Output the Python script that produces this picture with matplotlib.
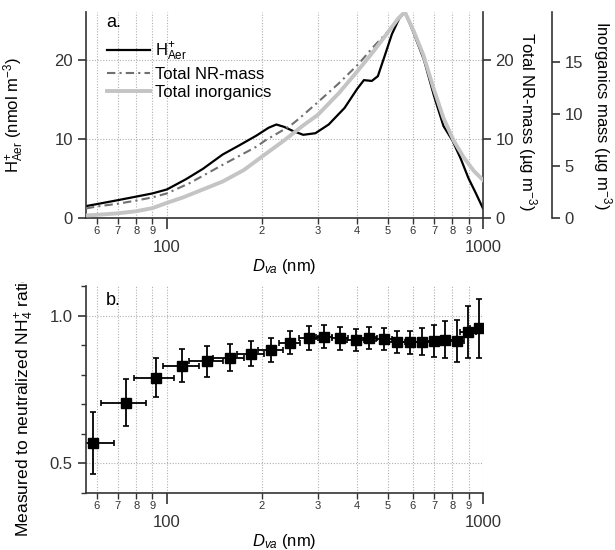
"""
Two-panel size-distribution figure: H+ aerosol vs. NR-mass / inorganics (a)
and measured-to-neutralized NH4+ ratio vs. vacuum aerodynamic diameter (b).
"""

import matplotlib

matplotlib.use("Agg")
import matplotlib.pyplot as plt
from matplotlib.patches import Rectangle

plt.rcParams["font.family"] = ["Liberation Sans", "DejaVu Sans"]
plt.rcParams["mathtext.fontset"] = "custom"
plt.rcParams["mathtext.rm"] = "Liberation Sans"
plt.rcParams["mathtext.it"] = "Liberation Sans:italic"

# ---- panel a: size distributions ----
h_d = [55.5, 60, 70, 80, 90, 100, 115, 130, 150, 170, 192, 210, 222, 235, 250,
       270, 295, 325, 365, 400, 420, 445, 465, 490, 515, 545, 566, 600, 650,
       700, 750, 800, 850, 900, 950, 1000]
h_aer = [1.5, 1.75, 2.25, 2.7, 3.1, 3.6, 4.9, 6.2, 8.0, 9.2, 10.4, 11.4, 11.8,
         11.5, 11.0, 10.5, 10.7, 11.8, 13.9, 16.3, 17.4, 17.3, 17.9, 20.6, 23.2,
         25.3, 26.0, 23.6, 20.0, 15.4, 11.6, 9.8, 7.5, 5.0, 3.1, 1.2]

nr_d = [55.5, 60, 70, 80, 90, 100, 118, 150, 192, 205, 245, 263, 300, 350,
        403, 450, 502, 548, 566, 603, 647, 697, 750, 809, 870, 937, 1000]
nr_mass = [1.2, 1.45, 1.8, 2.2, 2.6, 3.1, 4.4, 6.7, 9.0, 9.8, 11.6, 12.6, 14.6,
           17.0, 19.4, 21.6, 23.6, 25.3, 26.0, 23.6, 20.6, 16.4, 12.6, 9.7, 7.6,
           5.9, 4.8]

in_d = [55.5, 60, 70, 80, 90, 100, 113, 150, 175, 200, 236, 270, 300, 350,
        403, 450, 502, 540, 566, 603, 647, 697, 750, 809, 870, 937, 1000]
inorg_mass = [0.25, 0.3, 0.45, 0.65, 0.95, 1.45, 2.0, 3.5, 4.6, 5.9, 7.5, 8.9,
              9.9, 12.0, 14.2, 16.0, 17.9, 19.2, 19.8, 18.0, 15.7, 12.5, 9.6,
              7.4, 5.8, 4.5, 3.65]

# ---- panel b: measured / neutralized NH4+ ratio ----
ratio_d = [58.2, 74.0, 92.1, 111.5, 134.3, 157.9, 184.9, 214.3, 245, 280.6,
           314.7, 353, 395.5, 437.5, 486.5, 534.6, 587.6, 642.8, 699.8, 760,
           824.5, 897.7, 968]
ratio = [0.570, 0.705, 0.790, 0.831, 0.845, 0.858, 0.871, 0.883, 0.908, 0.925,
         0.928, 0.923, 0.917, 0.923, 0.921, 0.912, 0.910, 0.912, 0.914, 0.919,
         0.914, 0.944, 0.957]
ratio_err = [0.105, 0.08, 0.066, 0.057, 0.052, 0.046, 0.043, 0.041, 0.039,
             0.04, 0.039, 0.038, 0.038, 0.037, 0.038, 0.037, 0.039, 0.045,
             0.053, 0.064, 0.072, 0.087, 0.1]
d_err = [10, 12, 13.5, 14.5, 16.5, 18, 18.5, 19.5, 18.5, 19, 19, 21, 24, 26,
         29, 32, 35, 38, 42, 45, 49, 53, 57]

major_x = [100, 1000]
minor_x = [60, 70, 80, 90, 200, 300, 400, 500, 600, 700, 800, 900]
minor_labels = ["6", "7", "8", "9", "2", "3", "4", "5", "6", "7", "8", "9"]

AXIS_COLOR = "#333333"
GRID = dict(color="#b0b0b0", linestyle=(0, (1, 1.5)), linewidth=0.8)
FS = 12


def style_xaxis(ax):
    ax.set_xscale("log")
    ax.set_xlim(55.5, 1000)
    ax.set_xticks(major_x)
    ax.set_xticklabels(["100", "1000"])
    ax.set_xticks(minor_x, minor=True)
    ax.set_xticklabels(minor_labels, minor=True)
    ax.tick_params(axis="x", which="major", length=8, width=1.2, pad=8,
                   labelsize=FS, colors=AXIS_COLOR)
    ax.tick_params(axis="x", which="minor", length=4, width=1, pad=2,
                   labelsize=8, colors=AXIS_COLOR)
    for v in major_x + minor_x:
        ax.axvline(v, zorder=0, **GRID)
    for s in ("top", "right"):
        ax.spines[s].set_visible(False)
    for s in ("left", "bottom"):
        ax.spines[s].set_color(AXIS_COLOR)
        ax.spines[s].set_linewidth(1.2)


fig = plt.figure(figsize=(6.15, 5.5), dpi=100)

# ---------------- panel a ----------------
ax_a = fig.add_axes([86 / 615, 1 - 218 / 550, 397 / 615, 206 / 550])
style_xaxis(ax_a)
ax_a.set_ylim(0, 26)
ax_a.set_yticks([0, 10, 20])
ax_a.tick_params(axis="y", length=6, width=1.2, labelsize=FS, colors=AXIS_COLOR)
for v in [10, 20]:
    ax_a.axhline(v, zorder=0, **GRID)
l_h, = ax_a.plot(h_d, h_aer, color="black", lw=1.6,
                 label=r"H$^{+}_{\mathrm{Aer}}$")
ax_a.set_ylabel(r"H$^{+}_{\mathrm{Aer}}$ (nmol m$^{\mathrm{-3}}$)", fontsize=FS)
ax_a.yaxis.set_label_coords(-0.150, 0.5)
ax_a.set_xlabel(r"$D_{va}$ (nm)", fontsize=FS)
ax_a.xaxis.set_label_coords(0.5, -0.19)
ax_a.text(0.052, 0.99, "a.", transform=ax_a.transAxes, fontsize=13,
          va="top", ha="left")

ax_nr = ax_a.twinx()
ax_nr.set_ylim(0, 26)
ax_nr.set_yticks([0, 10, 20])
for s in ("top", "left", "bottom"):
    ax_nr.spines[s].set_visible(False)
ax_nr.spines["right"].set_color(AXIS_COLOR)
ax_nr.spines["right"].set_linewidth(1.2)
ax_nr.tick_params(axis="y", length=6, width=1.2, pad=3, labelsize=FS,
                  colors=AXIS_COLOR)
l_nr, = ax_nr.plot(nr_d, nr_mass, color="#707070", lw=1.5,
                   linestyle=(0, (4, 2, 1, 2)), label="Total NR-mass")
lab = ax_nr.set_ylabel(r"Total NR-mass (µg m$^{\mathrm{-3}}$)", fontsize=FS,
                       rotation=270)
ax_nr.yaxis.set_label_coords(1.112, 0.47)
lab.set_va("center")
lab.set_ha("center")

ax_in = ax_a.twinx()
ax_in.set_ylim(0, 19.8)
ax_in.set_yticks([0, 5, 10, 15])
for s in ("top", "left", "bottom"):
    ax_in.spines[s].set_visible(False)
ax_in.spines["right"].set_position(("axes", 1.174))
ax_in.spines["right"].set_color(AXIS_COLOR)
ax_in.spines["right"].set_linewidth(1.2)
ax_in.tick_params(axis="y", length=6, width=1.2, pad=3, labelsize=FS,
                  colors=AXIS_COLOR)
l_in, = ax_in.plot(in_d, inorg_mass, color="#c4c4c4", lw=2.8,
                   label="Total inorganics")
lab = ax_in.set_ylabel(r"Inorganics mass (µg m$^{\mathrm{-3}}$)", fontsize=FS,
                       rotation=270)
ax_in.yaxis.set_label_coords(1.30, 0.5)
lab.set_va("center")
lab.set_ha("center")
ax_in.set_xlim(55.5, 1000)

ax_in.legend(handles=[l_h, l_nr, l_in], loc="upper left",
             bbox_to_anchor=(0.052, 0.86), frameon=False, fontsize=FS,
             handlelength=2.6, handletextpad=0.3, labelspacing=0.2,
             borderpad=0, borderaxespad=0)

# ---------------- panel b ----------------
ax_b = fig.add_axes([86 / 615, 1 - 493 / 550, 397 / 615, 207 / 550])
style_xaxis(ax_b)
ax_b.set_ylim(0.4, 1.1)
ax_b.set_yticks([0.5, 1.0])
ax_b.set_yticklabels(["0.5", "1.0"])
ax_b.set_yticks([0.4, 0.6, 0.7, 0.8, 0.9, 1.1], minor=True)
ax_b.tick_params(axis="y", which="major", length=6, width=1.2, labelsize=FS,
                 colors=AXIS_COLOR)
ax_b.tick_params(axis="y", which="minor", length=3.5, width=1,
                 colors=AXIS_COLOR)
for v in [0.5, 1.0]:
    ax_b.axhline(v, zorder=0, **GRID)
ax_b.errorbar(ratio_d, ratio, yerr=ratio_err, xerr=d_err, fmt="s",
              color="black", ms=7, elinewidth=1.3, capsize=2.5, capthick=1.2)
ax_b.text(0.05, 0.97, "b.", transform=ax_b.transAxes, fontsize=13,
          va="top", ha="left")
ax_b.set_xlabel(r"$D_{va}$ (nm)", fontsize=FS)
ax_b.xaxis.set_label_coords(0.5, -0.19)

# y label of panel b: starts near the figure bottom and runs past the top of
# the panel, where the original is cut off
fig.text(25 / 615, 13 / 550, r"Measured to neutralized NH$_4^{+}$ ratio",
         rotation=90, ha="center", va="bottom", fontsize=12.6)
fig.add_artist(Rectangle((0, 1 - 282 / 550), 60 / 615, 40 / 550,
                         transform=fig.transFigure, facecolor="white",
                         edgecolor="none", zorder=10))

fig.savefig("out.png", dpi=100)
